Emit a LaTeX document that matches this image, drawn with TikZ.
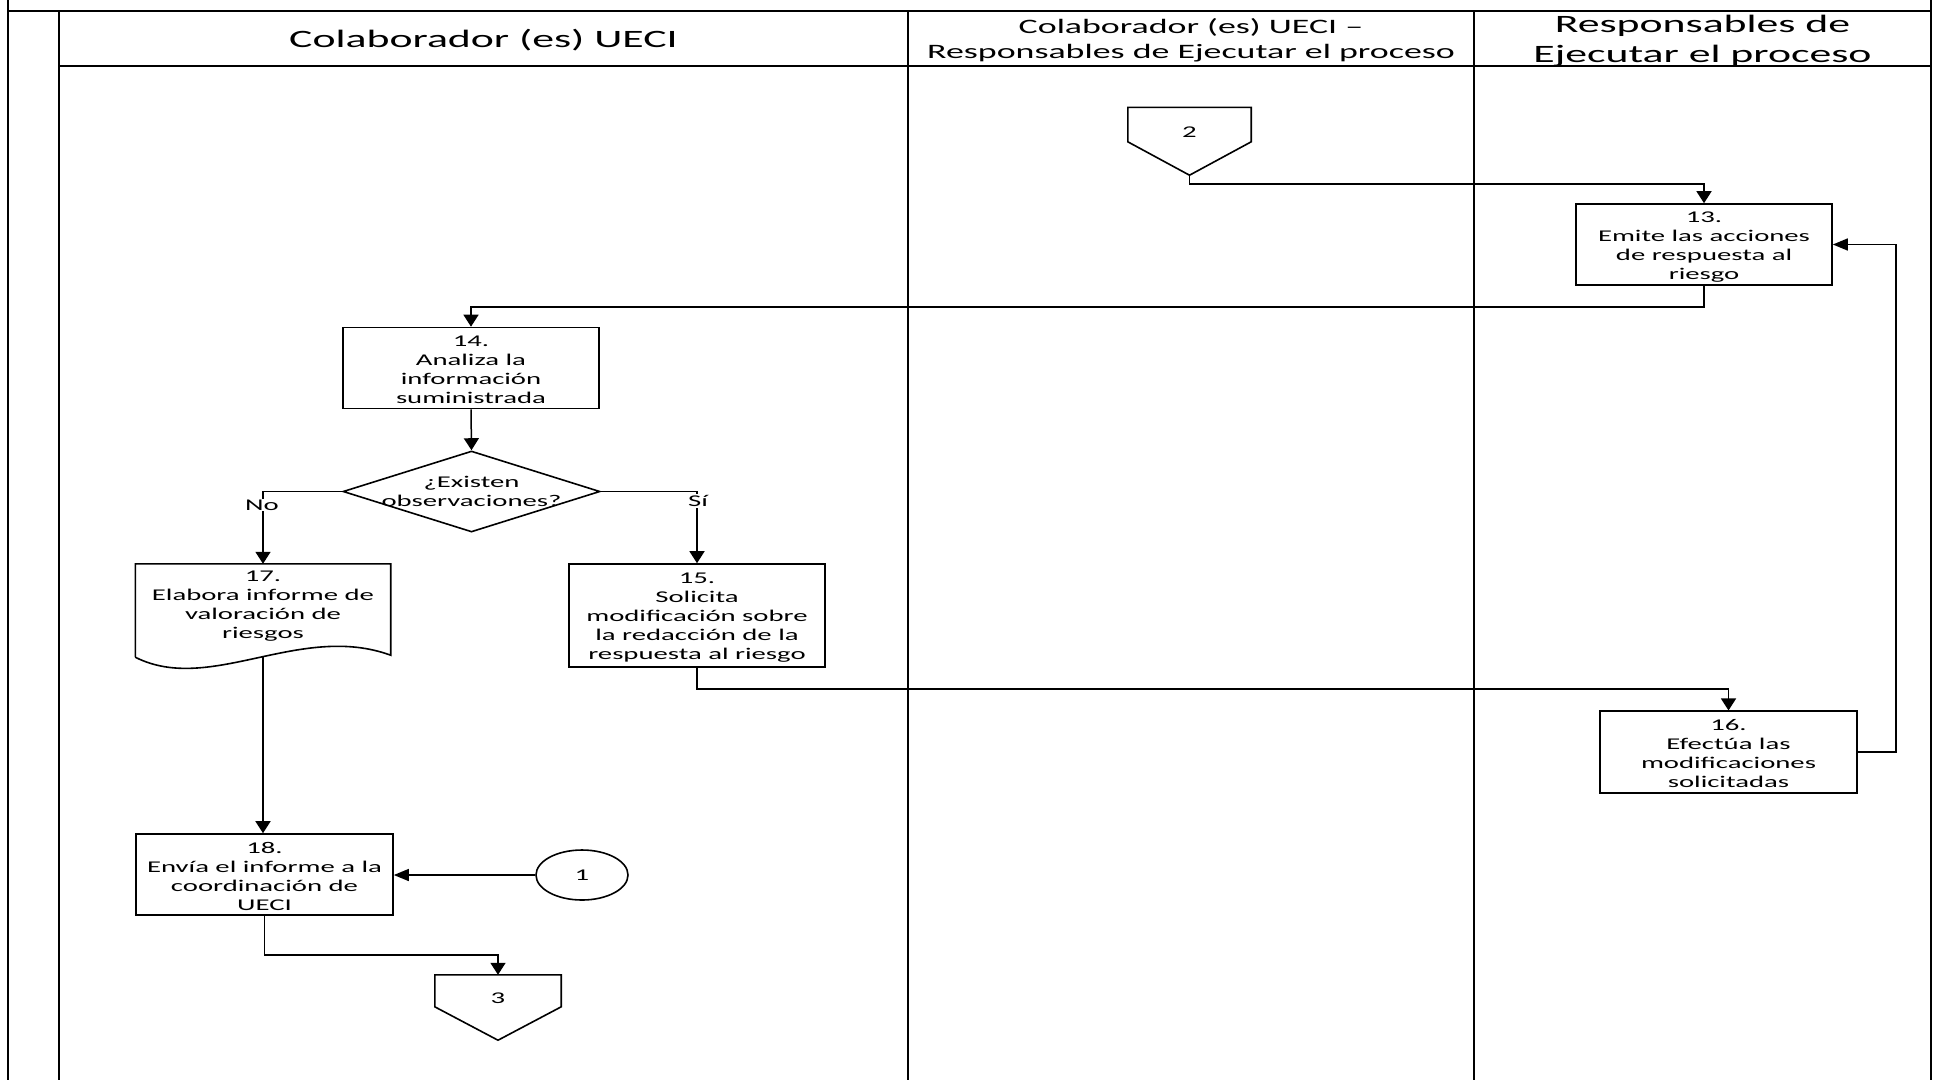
\documentclass[tikz,border=0pt]{standalone}
\usepackage{fontspec}
\setmainfont{Carlito}[FakeStretch=1.75]
\usetikzlibrary{arrows.meta,shapes.geometric,calc}

\newcommand{\boxfnt}{\fontsize{16.4}{19}\selectfont}
\newcommand{\hdrfnt}{\fontsize{25}{30}\selectfont}
\newcommand{\hdrfntsmall}{\fontsize{20.5}{25}\selectfont}
\newcommand{\firstline}{\rule{0pt}{15pt}}

\begin{document}
\begin{tikzpicture}[x=1pt,y=-1pt,
  frame/.style={line width=2pt, draw=black},
  outline/.style={line width=1.6pt, draw=black},
  box/.style={outline, rectangle, minimum width=256pt, minimum height=81pt,
    inner sep=0pt, align=center, font=\boxfnt},
  bare/.style={rectangle, inner sep=0pt, align=center, font=\boxfnt},
  decision/.style={outline, diamond, inner sep=0pt, minimum width=257pt, minimum height=81pt},
  connector/.style={outline, ellipse, inner sep=0pt, minimum width=92pt, minimum height=50pt, font=\boxfnt},
  hdr/.style={align=center, inner sep=0pt, font=\hdrfnt},
  hdrsmall/.style={align=center, inner sep=0pt, font=\hdrfntsmall},
  flow/.style={line width=1.5pt, draw=black},
  down/.style={flow, -{Triangle[length=12pt,width=15pt]}},
  side/.style={flow, -{Triangle[length=15pt,width=12pt]}},
  tag/.style={fill=white, inner sep=1pt, font=\boxfnt}
]
\fill[white] (0,0) rectangle (1937,1080);
\useasboundingbox (0,0) rectangle (1937,1080);

% pool frame and swimlanes
\draw[frame] (8,0) -- (8,1080);
\draw[frame] (1931,0) -- (1931,1080);
\draw[frame] (8,11) -- (1931,11);
\draw[frame] (59,11) -- (59,1080);
\draw[frame] (59,66) -- (1931,66);
\draw[frame] (908,11) -- (908,1080);
\draw[frame] (1474,11) -- (1474,1080);

% lane headers
\node[hdr] (h1) at (483.5,40.5) {Colaborador (es) UECI};
\node[hdrsmall] (h2) at (1191,40.5) {Colaborador (es) UECI –\\Responsables de Ejecutar el proceso};
\node[hdr] (h3) at (1702.5,40.5) {Responsables de\\Ejecutar el proceso};

% off-page connector 2
\node[bare, minimum width=123pt, minimum height=67.5pt] (c2) at (1189.5,141.25) {};
\draw[outline] (c2.north west) -- (c2.north east) -- ($(c2.north east)+(0,34.5)$)
  -- (c2.south) -- ($(c2.north west)+(0,34.5)$) -- cycle;
\node[bare] (c2t) at ($(c2.north)+(0,25)$) {2};

% process steps
\node[box] (n13) at (1704,244.5) {\firstline 13.\\Emite las acciones\\de respuesta al\\riesgo};
\node[box] (n14) at (471,368) {\firstline 14.\\Analiza la\\información\\suministrada};
\node[decision] (dec) at (471.5,491.5) {};
\node[bare] (dect) at (471.5,491.5) {¿Existen\\observaciones?};
\node[box, minimum height=103pt] (n15) at (697,615.5)
  {\firstline 15.\\Solicita\\modificación sobre\\la redacción de la\\respuesta al riesgo};
\node[box, minimum width=257pt, minimum height=81.5pt] (n16) at (1728.5,752)
  {\firstline 16.\\Efectúa las\\modificaciones\\solicitadas};

% document step 17
\node[bare, minimum width=255pt, minimum height=93pt] (d17) at (263,610.5) {};
\draw[outline] (d17.south west) -- (d17.north west) -- (d17.north east) -- ($(d17.south east)+(0,-2)$)
  .. controls (300,622) and (210,695) .. (d17.south west);
\node[bare] (d17t) at (263,606) {17.\\Elabora informe de\\valoración de\\riesgos};

\node[box, minimum width=257pt] (n18) at (264.5,874.5)
  {\firstline 18.\\Envía el informe a la\\coordinación de\\UECI};
\node[connector] (c1) at (582,875) {1};

% off-page connector 3
\node[bare, minimum width=126pt, minimum height=65pt] (c3) at (498,1007.5) {};
\draw[outline] (c3.north west) -- (c3.north east) -- ($(c3.north east)+(0,32)$)
  -- (c3.south) -- ($(c3.north west)+(0,32)$) -- cycle;
\node[bare] (c3t) at ($(c3.north)+(0,23)$) {3};

% flow
\draw[down] (c2.south) -- ++(0,9) -| (n13.north);
\draw[down] (n13.south) -- ++(0,21) -| (n14.north);
\draw[down] (n14.south) -- (dec.north);
\draw[down] (dec.west) -| (d17.north);
\draw[down] (dec.east) -| (n15.north);
\node[tag] (no) at (262,505) {No};
\node[tag] (si) at (698,501) {Sí};
\draw[down] (n15.south) -- ++(0,21) -| (n16.north);
\draw[side] (n16.east) -- ++(38,0) |- (n13.east);
\draw[down] (d17.south) -- (d17.south |- n18.north);
\draw[side] (c1.west) -- (c1.west -| n18.east);
\draw[down] (n18.south) -- ++(0,39) -| (c3.north);
\end{tikzpicture}
\end{document}
